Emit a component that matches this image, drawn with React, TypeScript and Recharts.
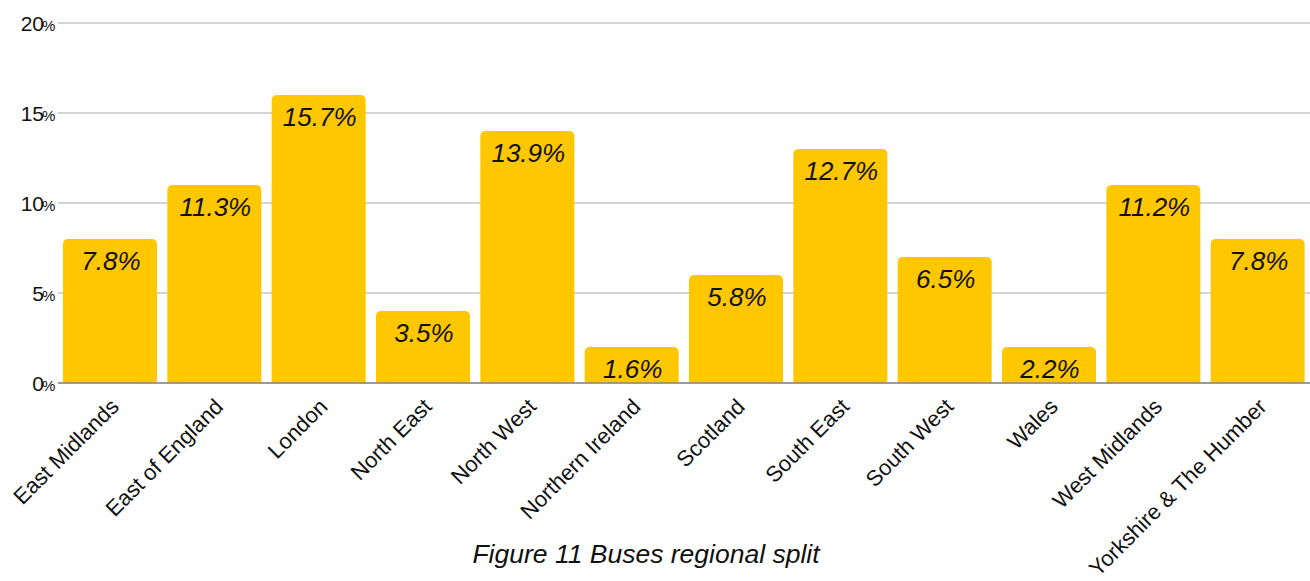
import React from "react";
import {
  BarChart,
  Bar,
  XAxis,
  YAxis,
  CartesianGrid,
  LabelList,
  Label,
} from "recharts";

const regions = [
  "East Midlands",
  "East of England",
  "London",
  "North East",
  "North West",
  "Northern Ireland",
  "Scotland",
  "South East",
  "South West",
  "Wales",
  "West Midlands",
  "Yorkshire & The Humber",
];

// bar heights as drawn (the source rounds them), labels as printed
const barHeights = [8, 11, 16, 4, 14, 2, 6, 13, 7, 2, 11, 8];
const shareLabels = [
  "7.8%",
  "11.3%",
  "15.7%",
  "3.5%",
  "13.9%",
  "1.6%",
  "5.8%",
  "12.7%",
  "6.5%",
  "2.2%",
  "11.2%",
  "7.8%",
];

const yTicks = [0, 5, 10, 15, 20];

const FONT = "'Liberation Sans', Arial, Helvetica, sans-serif";

const data = regions.map((name, i) => ({
  name,
  value: barHeights[i],
  label: shareLabels[i],
}));

function YTick(props: any) {
  const { y, payload } = props;
  return (
    <g fontFamily={FONT} fill="#111">
      <text x={44} y={y + 8} textAnchor="end" fontSize={21}>
        {payload.value}
      </text>
      <text x={42} y={y + 8} fontSize={15}>
        %
      </text>
    </g>
  );
}

function XTick(props: any) {
  const { x, y, payload } = props;
  const ax = x + 10;
  const ay = y + 17;
  return (
    <text
      x={ax}
      y={ay}
      textAnchor="end"
      fontFamily={FONT}
      fontSize={22}
      fill="#111"
      transform={`rotate(-45, ${ax}, ${ay})`}
    >
      {payload.value}
    </text>
  );
}

function BarLabel(props: any) {
  const { x, y, width, value } = props;
  return (
    <text
      x={x + width / 2 + 1}
      y={y + 31}
      textAnchor="middle"
      fontFamily={FONT}
      fontStyle="italic"
      fontSize={26}
      fill="#111"
    >
      {value}
    </text>
  );
}

function Title(props: any) {
  return (
    <text
      x={646}
      y={563}
      textAnchor="middle"
      fontFamily={FONT}
      fontStyle="italic"
      fontSize={26.5}
      fill="#111"
    >
      {props.value}
    </text>
  );
}

export default function App() {
  return (
    <div style={{ width: 1310, height: 581, background: "#fff" }}>
      <style>{`body{margin:0}`}</style>
      <BarChart
        width={1310}
        height={581}
        data={data}
        margin={{ top: 23, right: 0, left: 0, bottom: 0 }}
        barCategoryGap={5}
      >
        <CartesianGrid vertical={false} stroke="#c6c6c6" strokeWidth={1.5} />
        <YAxis
          domain={[0, 20]}
          ticks={yTicks}
          width={58}
          axisLine={false}
          tickLine={false}
          tick={<YTick />}
          interval={0}
        />
        <XAxis
          dataKey="name"
          height={198}
          interval={0}
          axisLine={{ stroke: "#888", strokeWidth: 1.5 }}
          tickLine={false}
          tick={<XTick />}
        >
          <Label
            value="Figure 11 Buses regional split"
            content={<Title value="Figure 11 Buses regional split" />}
          />
        </XAxis>
        <Bar
          dataKey="value"
          fill="#FEC700"
          radius={[5, 5, 0, 0]}
          isAnimationActive={false}
        >
          <LabelList dataKey="label" content={<BarLabel />} />
        </Bar>
      </BarChart>
    </div>
  );
}
